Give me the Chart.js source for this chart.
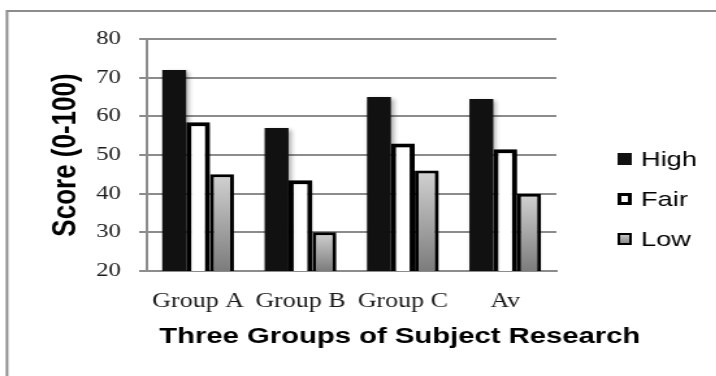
<!DOCTYPE html>
<html>
<head>
<meta charset="utf-8">
<script src="https://cdn.jsdelivr.net/npm/chart.js@4/dist/chart.umd.min.js"></script>
<style>
  html, body { margin: 0; padding: 0; background: #fff; overflow: hidden; }
  #wrap { width: 716px; height: 376px; }
  /* the original picture is stretched sideways, so the canvas is too */
  #chart { display: block; transform: scaleX(1.3); transform-origin: 0 0; }
</style>
</head>
<body>
<div id="wrap"><canvas id="chart" width="551" height="376"></canvas></div>
<script>
// Data
const categories = ['Group A', 'Group B', 'Group C', 'Av'];
const seriesNames = ['High', 'Fair', 'Low'];
const highScores = [72, 57, 65, 64.5];
const fairScores = [58.5, 43.5, 53, 51.5];
const lowScores = [45, 30, 46, 40];
const yMin = 20;
const yMax = 80;
const yStep = 10;
const xTitle = 'Three Groups of Subject Research';
const yTitle = 'Score (0-100)';

const GRID = '#8c8c8c';

// gray gradient running down each Low bar
const lowFill = (ctx) => {
    const chart = ctx.chart;
    if (!chart.chartArea || ctx.raw === undefined) return '#aaaaaa';
    const y = chart.scales.y;
    const top = y.getPixelForValue(ctx.raw);
    const bottom = y.getPixelForValue(yMin);
    const g = chart.ctx.createLinearGradient(0, top, 0, bottom);
    g.addColorStop(0, '#d2d2d2');
    g.addColorStop(1, '#7c7c7c');
    return g;
};

// gray frame at top/left of the picture
const framePlugin = {
    id: 'frame',
    beforeDraw(chart) {
        const ctx = chart.ctx;
        ctx.save();
        ctx.strokeStyle = GRID;
        ctx.lineWidth = 2;
        ctx.beginPath();
        ctx.moveTo(5.4, 376);
        ctx.lineTo(5.4, 11);
        ctx.lineTo(chart.width, 11);
        ctx.stroke();
        ctx.restore();
    }
};

// soft drop shadow on the bars
const shadowPlugin = {
    id: 'barShadow',
    beforeDatasetsDraw(chart) {
        const ctx = chart.ctx;
        ctx.save();
        ctx.shadowColor = 'rgba(0,0,0,0.35)';
        ctx.shadowBlur = 4;
        ctx.shadowOffsetX = 2;
        ctx.shadowOffsetY = 2;
    },
    afterDatasetsDraw(chart) {
        chart.ctx.restore();
    }
};

// legend + x title drawn by hand (the original sits them off-centre)
const legendPlugin = {
    id: 'sideLegend',
    afterDraw(chart) {
        const ctx = chart.ctx;
        const rows = [159, 199, 239];
        ctx.save();
        chart.data.datasets.forEach((ds, i) => {
            const cy = rows[i];
            const x = 475, w = 11, h = 12;
            const top = cy - h / 2;
            if (i === 2) {
                const g = ctx.createLinearGradient(0, top, 0, top + h);
                g.addColorStop(0, '#d2d2d2');
                g.addColorStop(1, '#7c7c7c');
                ctx.fillStyle = g;
            } else {
                ctx.fillStyle = ds.backgroundColor;
            }
            ctx.fillRect(x, top, w, h);
            if (ds.borderWidth) {
                const bw = i === 1 ? 3 : 2;
                ctx.strokeStyle = '#000';
                ctx.lineWidth = bw;
                ctx.strokeRect(x + bw / 2, top + bw / 2, w - bw, h - bw);
            }
            ctx.fillStyle = '#000';
            ctx.font = '21px "Liberation Sans", Arial, sans-serif';
            ctx.textBaseline = 'middle';
            ctx.textAlign = 'left';
            ctx.fillText(ds.label, 493, cy + 1);
        });

        ctx.font = 'bold 22.5px "Liberation Sans", Arial, sans-serif';
        ctx.textAlign = 'center';
        ctx.textBaseline = 'middle';
        ctx.fillText(xTitle, 307.5, 337);
        ctx.restore();
    }
};

const chart = new Chart(document.getElementById('chart').getContext('2d'), {
    type: 'bar',
    data: {
        labels: categories,
        datasets: [
            {
                label: seriesNames[0],
                data: highScores,
                backgroundColor: '#111111',
                borderWidth: 0
            },
            {
                label: seriesNames[1],
                data: fairScores,
                backgroundColor: '#ffffff',
                borderColor: '#000000',
                borderWidth: 4,
                borderSkipped: false
            },
            {
                label: seriesNames[2],
                data: lowScores,
                backgroundColor: lowFill,
                borderColor: '#000000',
                borderWidth: 3,
                borderSkipped: false
            }
        ]
    },
    options: {
        responsive: false,
        animation: false,
        devicePixelRatio: 1,
        layout: {
            padding: { top: 39, right: 123, bottom: 0, left: 0 }
        },
        plugins: {
            legend: { display: false },
            tooltip: { enabled: false }
        },
        datasets: {
            bar: {
                categoryPercentage: 0.7,
                barPercentage: 1
            }
        },
        scales: {
            x: {
                grid: { display: false, drawTicks: false },
                border: { display: true, color: GRID, width: 2 },
                ticks: {
                    padding: 19,
                    color: '#1a1a1a',
                    font: { family: '"Liberation Serif", serif', size: 20 }
                },
                afterFit(scale) { scale.height = 105; }
            },
            y: {
                min: yMin,
                max: yMax,
                ticks: {
                    stepSize: yStep,
                    padding: 14,
                    color: '#1a1a1a',
                    font: { family: '"Liberation Serif", serif', size: 19 }
                },
                grid: { color: GRID, lineWidth: 2, tickLength: 6 },
                border: { display: true, color: GRID, width: 2 },
                title: {
                    display: true,
                    text: yTitle,
                    color: '#000',
                    padding: { top: 35, bottom: 0 },
                    font: { family: '"Liberation Sans", Arial, sans-serif', size: 26, weight: 'bold' }
                },
                afterFit(scale) { scale.width = 113; }
            }
        }
    },
    plugins: [framePlugin, shadowPlugin, legendPlugin]
});
</script>
</body>
</html>
